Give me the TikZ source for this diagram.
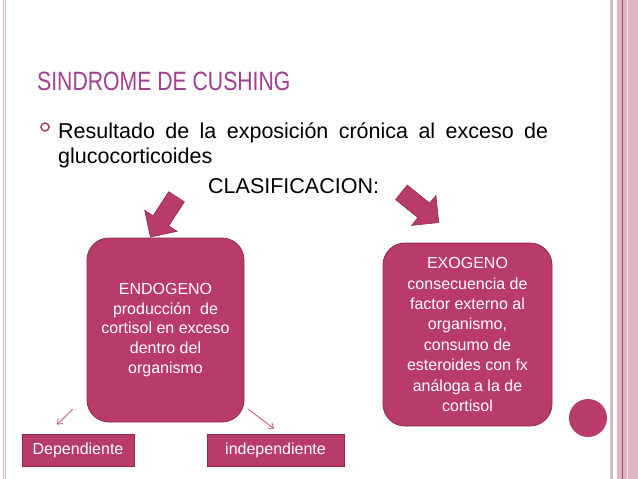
\documentclass[tikz,border=0pt]{standalone}
\usepackage{fontspec}
\setmainfont{Liberation Sans}
\newfontfamily\titlefont[FakeStretch=0.8]{Liberation Sans}
\usepackage{xcolor}
\usepackage{tikz}
\usetikzlibrary{shapes.arrows, arrows.meta}
\definecolor{boxfill}{RGB}{185,59,106}
\definecolor{boxline}{RGB}{140,40,80}
\definecolor{titlecol}{RGB}{163,62,148}
\definecolor{bulletcol}{RGB}{165,60,110}
\definecolor{barpink}{RGB}{221,180,192}
\definecolor{bardark}{RGB}{170,65,105}
\definecolor{arrpink}{RGB}{200,80,130}

\begin{document}
\begin{tikzpicture}[x=1pt, y=-1pt,
  every node/.style={inner sep=0pt},
  bigbox/.style={rectangle, draw=boxline, fill=boxfill, rounded corners=22pt,
                 align=center, text=white, line width=0.8pt},
  smallbox/.style={rectangle, draw=boxline, fill=boxfill, text=white,
                   font=\fontsize{16}{19}\selectfont, line width=0.8pt},
  blockarr/.style={single arrow, draw=boxline, fill=boxfill, line width=0.6pt,
                   single arrow head extend=10pt, inner sep=9pt, minimum height=48pt},
  thinarr/.style={-{Straight Barb[length=4.5pt, width=7pt]}, draw=arrpink, line width=0.8pt},
]
  \fill[white] (0,0) rectangle (638,479);
  \useasboundingbox (0,0) rectangle (638,479);

  % Page frame
  \draw[barpink, line width=1pt] (3.3,0) -- (3.3,479);
  \draw[barpink, line width=1pt] (5.8,0) -- (5.8,479);
  \fill[barpink] (610,0) rectangle (612.7,479);
  \fill[barpink] (616.7,0) rectangle (638,479);
  \draw[bardark, line width=1pt] (622,0) -- (622,479);
  \draw[white!60!barpink, line width=0.6pt] (627,0) -- (627,479);

  % Title and intro
  \node[anchor=base west, text=titlecol, font=\titlefont\fontsize{26.5}{30}\selectfont]
    (title) at (37,90) {SINDROME DE CUSHING};
  \node[circle, draw=bulletcol, line width=1.5pt, minimum size=8pt] (bullet) at (45,127) {};
  \node[anchor=north west, text width=490pt, align=justify,
        font=\fontsize{21.5}{25.5}\selectfont]
    (intro) at (58,122) {Resultado de la exposición crónica al exceso de
      \mbox{glucocorticoides}};
  \node[anchor=base west, font=\fontsize{21.5}{25}\selectfont]
    (clasif) at (208,193) {CLASIFICACION:};

  % Block arrows
  \node[blockarr, rotate=237] (arrendo) at (166,213) {};
  \node[blockarr, rotate=-39] (arrexo) at (416.5,204.5) {};

  % Main boxes
  \node[bigbox, minimum width=157pt, minimum height=184pt,
        font=\fontsize{16}{19.7}\selectfont] (endo) at (165.5,330)
    {ENDOGENO\\producción~ de\\cortisol en exceso\\dentro del\\organismo};
  \node[bigbox, minimum width=169pt, minimum height=183pt,
        font=\fontsize{16}{20.4}\selectfont] (exo) at (467.5,334.5)
    {EXOGENO\\consecuencia de\\factor externo al\\organismo,\\consumo de\\esteroides con fx\\análoga a la de\\cortisol};

  % Sub types
  \node[smallbox, minimum width=112pt, minimum height=32pt] (dep) at (78,450) {Dependiente};
  \node[smallbox, minimum width=137pt, minimum height=32pt] (indep) at (275.5,450) {independiente};

  % Sub type arrows
  \draw[thinarr] ([shift={(-14,-13)}]endo.south west) -- ([shift={(-21,-9)}]dep.north);
  \draw[thinarr] ([shift={(4,-13)}]endo.south east) -- ([shift={(-1.5,-5)}]indep.north);

  % Corner dot
  \node[circle, fill=boxfill, minimum size=38pt] (dot) at (588,418) {};
\end{tikzpicture}
\end{document}
